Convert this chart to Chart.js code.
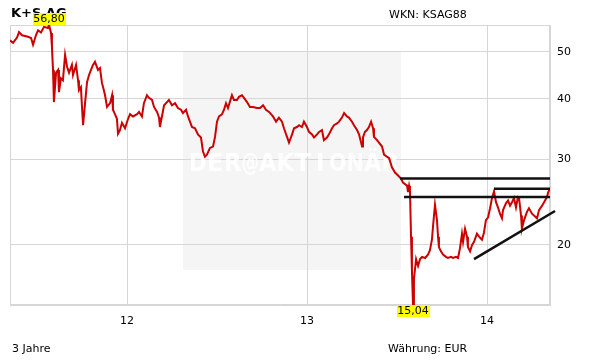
<!DOCTYPE html>
<html>
<head>
<meta charset="utf-8">
<script src="https://cdn.jsdelivr.net/npm/chart.js@4"></script>
<style>
  body { margin: 0; background: #fff; }
  canvas { display: block; }
</style>
</head>
<body>
<canvas id="chart" width="611" height="364"></canvas>
<script>
// time as fractional year (two-digit years, like the axis labels)
const years = [
  11.350, 11.367, 11.389, 11.400, 11.417, 11.433, 11.450, 11.467, 11.478, 11.494,
  11.506, 11.522, 11.539, 11.561, 11.567, 11.578, 11.583, 11.589, 11.594, 11.606,
  11.617, 11.622, 11.633, 11.644, 11.656, 11.667, 11.678, 11.694, 11.700, 11.717,
  11.728, 11.733, 11.744, 11.750, 11.756, 11.767, 11.778, 11.789, 11.800, 11.811,
  11.822, 11.839, 11.850, 11.861, 11.867, 11.878, 11.889, 11.906, 11.917, 11.922,
  11.933, 11.944, 11.950, 11.961, 11.972, 11.989, 12.006, 12.017, 12.033, 12.056,
  12.067, 12.083, 12.094, 12.111, 12.122, 12.139, 12.150, 12.167, 12.178, 12.183,
  12.194, 12.206, 12.222, 12.233, 12.250, 12.267, 12.283, 12.300, 12.311, 12.328,
  12.339, 12.361, 12.378, 12.394, 12.411, 12.422, 12.433, 12.444, 12.461, 12.478,
  12.489, 12.500, 12.511, 12.528, 12.539, 12.550, 12.561, 12.583, 12.594, 12.611,
  12.622, 12.639, 12.650, 12.667, 12.683, 12.700, 12.722, 12.739, 12.756, 12.772,
  12.789, 12.811, 12.828, 12.844, 12.861, 12.872, 12.889, 12.900, 12.917, 12.928,
  12.944, 12.956, 12.972, 12.983, 13.000, 13.011, 13.028, 13.039, 13.056, 13.067,
  13.083, 13.094, 13.111, 13.122, 13.139, 13.150, 13.167, 13.178, 13.194, 13.206,
  13.222, 13.233, 13.250, 13.261, 13.278, 13.289, 13.306, 13.311, 13.322, 13.333,
  13.344, 13.356, 13.367, 13.372, 13.389, 13.400, 13.417, 13.428, 13.444, 13.456,
  13.472, 13.489, 13.506, 13.522, 13.533, 13.556, 13.561, 13.567, 13.572, 13.578,
  13.583, 13.589, 13.594, 13.606, 13.617, 13.628, 13.639, 13.656, 13.672, 13.683,
  13.694, 13.700, 13.711, 13.722, 13.728, 13.733, 13.744, 13.756, 13.772, 13.783,
  13.800, 13.811, 13.828, 13.839, 13.850, 13.861, 13.867, 13.878, 13.889, 13.894,
  13.906, 13.917, 13.928, 13.944, 13.956, 13.972, 13.983, 13.994, 14.006, 14.017,
  14.028, 14.039, 14.050, 14.061, 14.072, 14.083, 14.089, 14.106, 14.117, 14.128,
  14.139, 14.150, 14.161, 14.172, 14.178, 14.189, 14.194, 14.206, 14.222, 14.233,
  14.250, 14.261, 14.278, 14.289, 14.306, 14.317, 14.333, 14.339, 14.350
];
const prices = [
  52.8, 52.2, 53.5, 54.9, 54.1, 53.9, 53.7, 53.4, 51.7, 54.1,
  55.4, 54.8, 56.3, 56.0, 56.80, 54.7, 51.2, 45.8, 39.4, 45.3,
  45.9, 41.3, 44.1, 43.7, 49.3, 46.6, 45.3, 47.0, 44.8, 47.0,
  43.7, 41.7, 42.3, 38.5, 35.3, 39.2, 43.3, 44.8, 45.9, 47.0,
  47.7, 45.9, 46.3, 43.1, 42.3, 40.7, 38.5, 39.2, 40.7, 38.0,
  37.2, 36.4, 33.9, 34.5, 35.7, 34.8, 36.4, 37.2, 36.8, 37.2,
  37.6, 36.8, 39.2, 40.7, 40.2, 39.8, 38.5, 37.6, 36.6, 35.0,
  36.8, 38.8, 39.4, 39.8, 38.8, 39.2, 38.3, 38.0, 37.4, 38.0,
  36.8, 35.0, 34.8, 33.8, 33.3, 31.2, 30.4, 30.7, 31.7, 31.9,
  33.4, 35.9, 36.8, 37.2, 38.0, 39.2, 38.3, 40.7, 39.8, 39.8,
  40.4, 40.7, 40.2, 39.4, 38.5, 38.5, 38.3, 38.3, 38.8, 38.0,
  37.6, 36.8, 35.9, 36.6, 35.9, 34.8, 33.4, 32.5, 33.8, 34.8,
  35.0, 35.3, 35.0, 35.9, 35.0, 34.2, 33.8, 33.3, 33.8, 34.2,
  34.5, 32.9, 33.3, 33.8, 34.8, 35.3, 35.6, 35.9, 36.6, 37.4,
  36.8, 36.6, 35.9, 35.3, 34.5, 33.8, 31.9, 33.3, 34.2, 34.5,
  35.0, 35.9, 34.8, 33.4, 32.9, 32.5, 31.9, 30.7, 30.4, 30.2,
  28.9, 28.2, 27.8, 27.4, 26.9, 26.5, 25.7, 26.5, 25.9, 20.8,
  17.7, 15.04, 17.0, 18.7, 18.1, 18.7, 18.9, 18.8, 19.1, 19.5,
  20.5, 21.8, 24.2, 22.5, 20.8, 19.8, 19.4, 19.1, 18.9, 18.8,
  18.9, 18.8, 18.9, 18.8, 19.7, 21.1, 20.3, 21.6, 20.8, 19.8,
  19.4, 20.0, 20.3, 21.1, 20.8, 20.5, 21.2, 22.5, 22.8, 23.8,
  25.0, 25.8, 24.5, 23.9, 23.2, 22.7, 23.6, 24.4, 24.7, 24.1,
  24.5, 25.0, 23.9, 25.1, 25.0, 23.0, 21.6, 22.5, 23.4, 23.8,
  23.2, 23.0, 22.7, 23.6, 24.1, 24.5, 25.1, 25.6, 26.2
];

// drawn-in chart lines: horizontal resistance levels and a rising trend line
const levelPrices = [27.4, 26.1, 25.1];
const levelFrom = [13.517, 14.039, 13.539];
const trendYears = [13.928, 14.378];
const trendPrices = [18.7, 23.5];

const yTicks = [20, 30, 40, 50];
const xTicks = [12, 13, 14];
const xMin = 11.35, xMax = 14.35;

const FONT = "'DejaVu Sans', sans-serif";
const GRID = "#d6d6d6";

const fmt = v => v.toFixed(2).replace(".", ",");

function tag(ctx, text, cx, top) {
  ctx.font = "11px " + FONT;
  const w = Math.round(ctx.measureText(text).width + 2);
  ctx.fillStyle = "#ffff00";
  ctx.fillRect(Math.round(cx - w / 2), top, w, 12);
  ctx.fillStyle = "#000";
  ctx.textAlign = "center";
  ctx.textBaseline = "middle";
  ctx.fillText(text, cx, top + 6.5);
}

const decor = {
  id: "decor",
  beforeDraw(chart) {
    const ctx = chart.ctx;
    ctx.save();
    // watermark panel
    ctx.fillStyle = "#f5f5f5";
    ctx.fillRect(183, 52, 218, 218);
    // header / footer texts
    ctx.fillStyle = "#000";
    ctx.textBaseline = "alphabetic";
    ctx.textAlign = "left";
    ctx.font = "bold 13px " + FONT;
    ctx.fillText("K+S AG", 11, 17);
    ctx.font = "11px " + FONT;
    ctx.fillText("WKN: KSAG88", 389, 18);
    ctx.fillText("3 Jahre", 12, 352);
    ctx.fillText("Währung: EUR", 388, 352);
    ctx.restore();
  },
  beforeDatasetsDraw(chart) {
    const ctx = chart.ctx;
    const a = chart.chartArea;
    ctx.save();
    // watermark lettering, spread evenly across the panel
    ctx.fillStyle = "rgba(255,255,255,0.85)";
    ctx.font = "bold 24px " + FONT;
    ctx.textAlign = "center";
    ctx.textBaseline = "alphabetic";
    const word = "DER@AKTIONÄR";
    const step = 210 / word.length;
    [...word].forEach((ch, i) => ctx.fillText(ch, 189 + step * (i + 0.5), 171, step));
    ctx.strokeStyle = GRID;
    ctx.lineWidth = 1;
    ctx.strokeRect(a.left + 0.5, a.top + 0.5, a.right - a.left - 1, a.bottom - a.top - 1);
    ctx.restore();
  },
  afterDraw(chart) {
    const ctx = chart.ctx;
    const a = chart.chartArea;
    const xs = chart.scales.x;
    let hi = 0, lo = 0;
    prices.forEach((p, i) => {
      if (p > prices[hi]) hi = i;
      if (p < prices[lo]) lo = i;
    });
    ctx.save();
    tag(ctx, fmt(prices[hi]), xs.getPixelForValue(years[hi]), a.top - 12);
    tag(ctx, fmt(prices[lo]), xs.getPixelForValue(years[lo]), a.bottom);
    ctx.restore();
  }
};

const lineSets = levelPrices.map((p, i) => ({
  data: [{ x: levelFrom[i], y: p }, { x: xMax, y: p }],
  borderColor: "#111",
  borderWidth: 2.5,
  pointRadius: 0,
  order: 0
}));
lineSets.push({
  data: trendYears.map((t, i) => ({ x: t, y: trendPrices[i] })),
  borderColor: "#111",
  borderWidth: 2.5,
  pointRadius: 0,
  order: 0,
  clip: { left: 0, top: 0, right: 8, bottom: 0 }
});

new Chart(document.getElementById("chart"), {
  type: "line",
  data: {
    datasets: [
      ...lineSets,
      {
        data: years.map((t, i) => ({ x: t, y: prices[i] })),
        borderColor: "#cc0000",
        borderWidth: 2,
        pointRadius: 0,
        tension: 0,
        order: 1
      }
    ]
  },
  options: {
    responsive: false,
    animation: false,
    layout: { padding: { left: 10, top: 25, right: 0, bottom: 0 } },
    plugins: {
      legend: { display: false },
      tooltip: { enabled: false },
      title: { display: false }
    },
    scales: {
      x: {
        type: "linear",
        min: xMin,
        max: xMax,
        afterBuildTicks: s => { s.ticks = xTicks.map(v => ({ value: v })); },
        afterFit: s => { s.height = 59; },
        grid: { color: GRID, drawTicks: false },
        border: { color: GRID },
        ticks: {
          padding: 10,
          color: "#000",
          font: { family: FONT, size: 11 },
          maxRotation: 0,
          callback: v => String(v)
        }
      },
      y: {
        type: "logarithmic",
        position: "right",
        min: 15.04,
        max: 56.8,
        afterBuildTicks: s => { s.ticks = yTicks.map(v => ({ value: v })); },
        afterFit: s => { s.width = 61; },
        grid: { color: GRID, drawTicks: false },
        border: { color: GRID },
        ticks: {
          padding: 7,
          color: "#000",
          font: { family: FONT, size: 11 },
          callback: v => String(v)
        }
      }
    }
  },
  plugins: [decor]
});
</script>
</body>
</html>
